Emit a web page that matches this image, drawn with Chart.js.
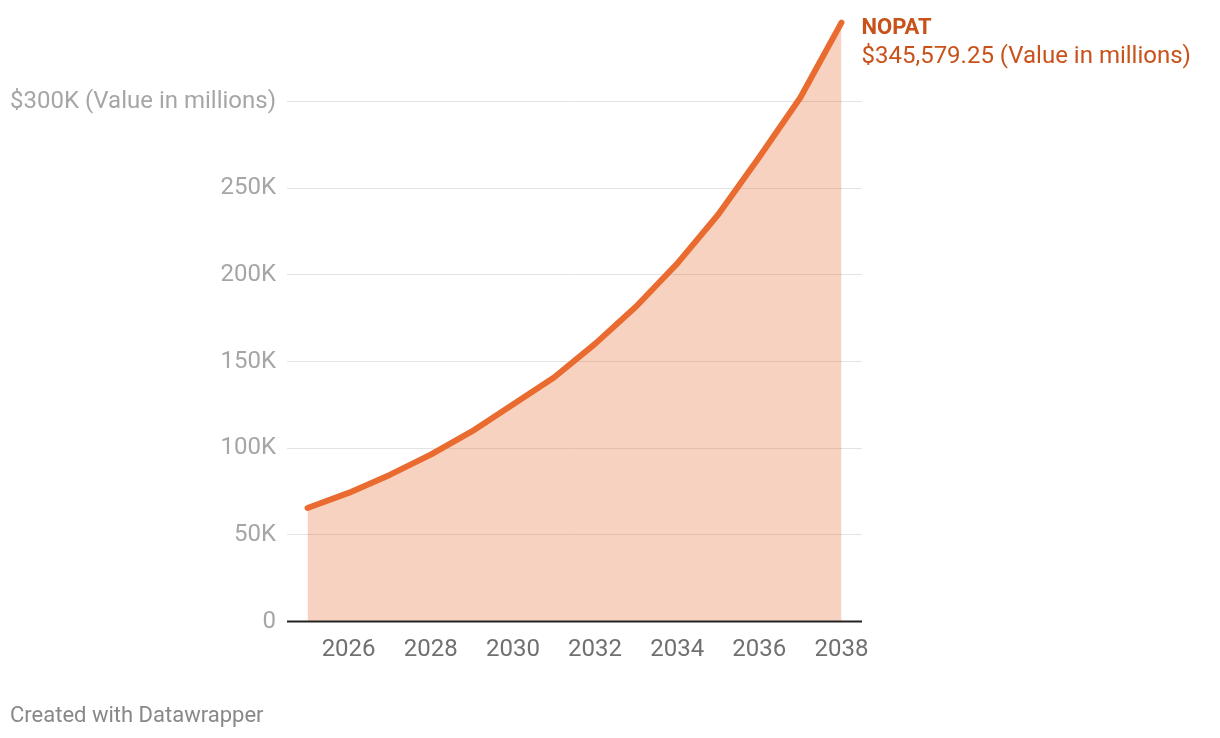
<!DOCTYPE html>
<html>
<head>
<meta charset="utf-8">
<script src="https://cdn.jsdelivr.net/npm/chart.js@4.4.1/dist/chart.umd.min.js"></script>
<style>
    body { margin: 0; background: #fff; font-family: Roboto, sans-serif; }
    #wrap { position: relative; width: 1220px; height: 738px; }
    #footer { position: absolute; left: 10px; top: 702px; font-size: 22px; color: #888; }
</style>
</head>
<body>
<div id="wrap">
    <canvas id="nopat-chart" width="1220" height="738"></canvas>
    <div id="footer">Created with Datawrapper</div>
</div>
<script>
// chart data
var years = ['2025', '2026', '2027', '2028', '2029', '2030', '2031', '2032', '2033', '2034', '2035', '2036', '2037', '2038'];
var nopat = [65500, 74200, 84600, 96300, 109700, 125200, 140800, 160200, 181800, 206500, 234900, 268000, 302400, 345579.25];
var yTicks = [0, 50000, 100000, 150000, 200000, 250000, 300000];
var yTickLabels = ['0', '50K', '100K', '150K', '200K', '250K', '$300K (Value in millions)'];
var seriesName = 'NOPAT';
var lastLabel = '$345,579.25 (Value in millions)';

var lineColor = '#e96b2f';
var labelColor = '#c8521a';

// label at the end of the line
var endLabelPlugin = {
    id: 'endLabel',
    afterDatasetsDraw: function(chart) {
        var meta = chart.getDatasetMeta(0);
        var pt = meta.data[meta.data.length - 1];
        var ctx = chart.ctx;
        ctx.save();
        ctx.fillStyle = labelColor;
        ctx.textAlign = 'left';
        ctx.textBaseline = 'middle';
        ctx.font = 'bold 22px Roboto';
        ctx.fillText(seriesName, pt.x + 20, pt.y + 6);
        ctx.font = '24px Roboto';
        ctx.fillText(lastLabel, pt.x + 20, pt.y + 34);
        ctx.restore();
    }
};

// zero baseline on top of the area
var baselinePlugin = {
    id: 'baseline',
    afterDatasetsDraw: function(chart) {
        var area = chart.chartArea;
        var y = chart.scales.y.getPixelForValue(0);
        var ctx = chart.ctx;
        ctx.save();
        ctx.strokeStyle = '#222';
        ctx.lineWidth = 2;
        ctx.beginPath();
        ctx.moveTo(area.left, y);
        ctx.lineTo(area.right, y);
        ctx.stroke();
        ctx.restore();
    }
};

var ctx = document.getElementById('nopat-chart').getContext('2d');
new Chart(ctx, {
    type: 'line',
    data: {
        labels: years,
        datasets: [{
            label: seriesName,
            data: nopat,
            borderColor: lineColor,
            borderWidth: 6,
            borderCapStyle: 'round',
            borderJoinStyle: 'round',
            backgroundColor: 'rgba(232, 105, 46, 0.3)',
            fill: 'origin',
            pointRadius: 0,
            tension: 0,
            clip: false
        }]
    },
    options: {
        responsive: false,
        animation: false,
        layout: {
            padding: { top: 0, right: 358, bottom: 0, left: 0 }
        },
        scales: {
            x: {
                offset: true,
                grid: { display: false, drawTicks: false },
                border: { display: false },
                afterFit: function(axis) { axis.height = 116.5; },
                ticks: {
                    autoSkip: false,
                    maxRotation: 0,
                    padding: 14,
                    color: '#707070',
                    font: { family: 'Roboto', size: 24 },
                    callback: function(value, index) {
                        var yr = years[index];
                        return (parseInt(yr) % 2 === 0) ? yr : '';
                    }
                }
            },
            y: {
                min: 0,
                max: 344000,
                afterFit: function(axis) { axis.width = 287; },
                afterBuildTicks: function(axis) {
                    axis.ticks = yTicks.map(function(v) { return { value: v }; });
                },
                grid: {
                    color: '#e3e3e3',
                    lineWidth: 1,
                    drawTicks: false
                },
                border: { display: false },
                ticks: {
                    padding: 11,
                    color: '#a6a6a6',
                    font: { family: 'Roboto', size: 24 },
                    callback: function(value) {
                        var i = yTicks.indexOf(value);
                        return i >= 0 ? yTickLabels[i] : '';
                    }
                }
            }
        },
        plugins: {
            legend: { display: false },
            tooltip: { enabled: false }
        }
    },
    plugins: [endLabelPlugin, baselinePlugin]
});
</script>
</body>
</html>
